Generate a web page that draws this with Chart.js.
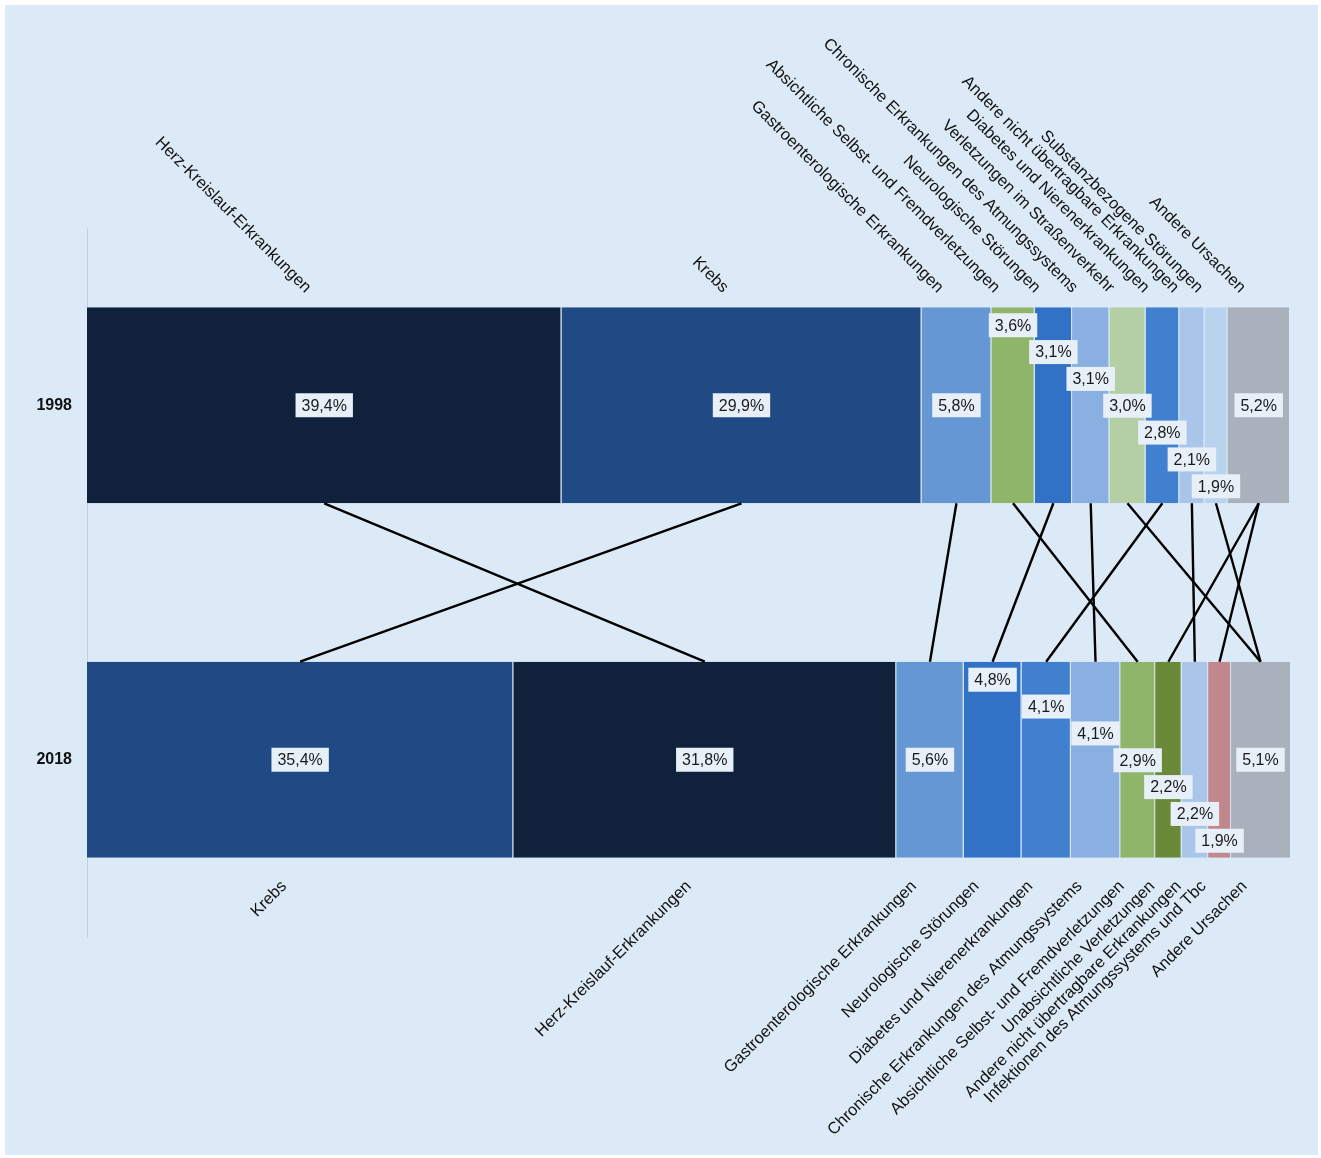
<!DOCTYPE html>
<html>
<head>
<meta charset="utf-8">
<script src="https://cdn.jsdelivr.net/npm/chart.js@4.4.1/dist/chart.umd.min.js"></script>
<style>
  html, body { margin: 0; padding: 0; background: #ffffff; }
  #frame { position: absolute; left: 0; top: 0; width: 1321px; height: 1158px; background: #ffffff; }
  #panel { position: absolute; left: 5px; top: 5px; width: 1313px; height: 1150px; background: #dceaf7; }
  #c { position: absolute; left: 0; top: 0; }
</style>
</head>
<body>
<div id="frame"><div id="panel"></div><canvas id="c" width="1321" height="1158"></canvas></div>
<script>
const years = ['1998', '2018'];

const causes1998 = [
  'Herz-Kreislauf-Erkrankungen',
  'Krebs',
  'Gastroenterologische Erkrankungen',
  'Absichtliche Selbst- und Fremdverletzungen',
  'Neurologische Störungen',
  'Chronische Erkrankungen des Atmungssystems',
  'Verletzungen im Straßenverkehr',
  'Diabetes und Nierenerkrankungen',
  'Andere nicht übertragbare Erkrankungen',
  'Substanzbezogene Störungen',
  'Andere Ursachen'
];
const values1998 = [39.4, 29.9, 5.8, 3.6, 3.1, 3.1, 3.0, 2.8, 2.1, 1.9, 5.2];

const causes2018 = [
  'Krebs',
  'Herz-Kreislauf-Erkrankungen',
  'Gastroenterologische Erkrankungen',
  'Neurologische Störungen',
  'Diabetes und Nierenerkrankungen',
  'Chronische Erkrankungen des Atmungssystems',
  'Absichtliche Selbst- und Fremdverletzungen',
  'Unabsichtliche Verletzungen',
  'Andere nicht übertragbare Erkrankungen',
  'Infektionen des Atmungssystems und Tbc',
  'Andere Ursachen'
];
const values2018 = [35.4, 31.8, 5.6, 4.8, 4.1, 4.1, 2.9, 2.2, 2.2, 1.9, 5.1];

// connections 1998 -> 2018
const links = [
  ['Herz-Kreislauf-Erkrankungen', 'Herz-Kreislauf-Erkrankungen'],
  ['Krebs', 'Krebs'],
  ['Gastroenterologische Erkrankungen', 'Gastroenterologische Erkrankungen'],
  ['Absichtliche Selbst- und Fremdverletzungen', 'Absichtliche Selbst- und Fremdverletzungen'],
  ['Neurologische Störungen', 'Neurologische Störungen'],
  ['Chronische Erkrankungen des Atmungssystems', 'Chronische Erkrankungen des Atmungssystems'],
  ['Verletzungen im Straßenverkehr', 'Andere Ursachen'],
  ['Diabetes und Nierenerkrankungen', 'Diabetes und Nierenerkrankungen'],
  ['Andere nicht übertragbare Erkrankungen', 'Andere nicht übertragbare Erkrankungen'],
  ['Substanzbezogene Störungen', 'Andere Ursachen'],
  ['Andere Ursachen', 'Unabsichtliche Verletzungen'],
  ['Andere Ursachen', 'Infektionen des Atmungssystems und Tbc']
];

const causeColors = {
  'Herz-Kreislauf-Erkrankungen': '#0f213b',
  'Krebs': '#1f4a84',
  'Gastroenterologische Erkrankungen': '#6597d5',
  'Absichtliche Selbst- und Fremdverletzungen': '#8fb56a',
  'Neurologische Störungen': '#3172c6',
  'Chronische Erkrankungen des Atmungssystems': '#8aafe1',
  'Verletzungen im Straßenverkehr': '#b4cfa5',
  'Diabetes und Nierenerkrankungen': '#4180cf',
  'Andere nicht übertragbare Erkrankungen': '#a9c6ea',
  'Substanzbezogene Störungen': '#b9d3ef',
  'Andere Ursachen': '#a8b1bc',
  'Unabsichtliche Verletzungen': '#6a8a3a',
  'Infektionen des Atmungssystems und Tbc': '#c0878c'
};

const FONT = '"Liberation Sans", Arial, Helvetica, sans-serif';
const valuesByYear = [values1998, values2018];

const datasets = causes1998.map((_, i) => ({
  label: 'Pos ' + (i + 1),
  data: [values1998[i], values2018[i]],
  backgroundColor: [causeColors[causes1998[i]], causeColors[causes2018[i]]],
  borderColor: '#dbe7f4',
  borderWidth: { left: 0, right: 1, top: 0, bottom: 0 },
  borderSkipped: false,
  barPercentage: 0.553,
  categoryPercentage: 1
}));

const fmt = v => v.toFixed(1).replace('.', ',') + '%';

const overlay = {
  id: 'overlay',
  afterDatasetsDraw(chart) {
    const ctx = chart.ctx;
    const n = chart.data.datasets.length;
    const seg = [0, 1].map(yi => {
      const arr = [];
      for (let i = 0; i < n; i++) {
        const el = chart.getDatasetMeta(i).data[yi];
        const p = el.getProps(['x', 'y', 'base', 'height'], true);
        const right = Math.min(Math.max(p.x, p.base), chart.chartArea.right);
        const left = Math.min(p.x, p.base);
        arr.push({
          cx: (left + right) / 2,
          cy: p.y,
          top: p.y - p.height / 2,
          bottom: p.y + p.height / 2,
          h: p.height
        });
      }
      return arr;
    });

    // connecting lines
    ctx.save();
    ctx.strokeStyle = '#000000';
    ctx.lineWidth = 2.4;
    links.forEach(([a, b]) => {
      const i = causes1998.indexOf(a), j = causes2018.indexOf(b);
      if (i < 0 || j < 0) return;
      ctx.beginPath();
      ctx.moveTo(seg[0][i].cx, seg[0][i].bottom);
      ctx.lineTo(seg[1][j].cx, seg[1][j].top);
      ctx.stroke();
    });
    ctx.restore();

    // value labels
    ctx.save();
    ctx.font = '16px ' + FONT;
    ctx.textAlign = 'center';
    ctx.textBaseline = 'middle';
    [0, 1].forEach(yi => {
      const vals = valuesByYear[yi];
      const small = [];
      vals.forEach((v, i) => { if (v < 5) small.push(i); });
      vals.forEach((v, i) => {
        const s = seg[yi][i];
        let y = s.cy;
        const k = small.indexOf(i);
        if (k >= 0) {
          const t0 = s.top + 18, t1 = s.bottom - 17;
          y = small.length > 1 ? t0 + k * (t1 - t0) / (small.length - 1) : s.cy;
        }
        const txt = fmt(v);
        const w = ctx.measureText(txt).width + 12;
        ctx.fillStyle = '#e7eff9';
        ctx.fillRect(s.cx - w / 2, y - 12, w, 24);
        ctx.fillStyle = '#1a1a1a';
        ctx.fillText(txt, s.cx, y + 1);
      });
    });
    ctx.restore();

    // category labels
    ctx.save();
    ctx.font = '16.5px ' + FONT;
    ctx.fillStyle = '#111111';
    ctx.textAlign = 'right';
    ctx.textBaseline = 'middle';
    causes1998.forEach((c, i) => {
      const s = seg[0][i];
      ctx.save();
      ctx.translate(s.cx - 16, s.top - 17);
      ctx.rotate(Math.PI / 4);
      ctx.fillText(c, 0, 0);
      ctx.restore();
    });
    causes2018.forEach((c, j) => {
      const s = seg[1][j];
      ctx.save();
      ctx.translate(s.cx - 16, s.bottom + 26);
      ctx.rotate(-Math.PI / 4);
      ctx.fillText(c, 0, 0);
      ctx.restore();
    });
    ctx.restore();
  }
};

new Chart(document.getElementById('c'), {
  type: 'bar',
  data: { labels: years, datasets },
  options: {
    indexAxis: 'y',
    responsive: false,
    animation: false,
    devicePixelRatio: 1,
    layout: { padding: { top: 228, bottom: 221, left: 0, right: 31 } },
    plugins: { legend: { display: false }, tooltip: { enabled: false } },
    scales: {
      x: { stacked: true, min: 0, max: 99.9, display: false },
      y: {
        stacked: true,
        grid: { display: false, drawTicks: false },
        border: { display: true, color: '#c3cfdc', width: 1 },
        ticks: { color: '#111111', padding: 15, font: { family: FONT, size: 16, weight: 'bold' } },
        afterFit(scale) { scale.width = 87; }
      }
    }
  },
  plugins: [overlay]
});
</script>
</body>
</html>
